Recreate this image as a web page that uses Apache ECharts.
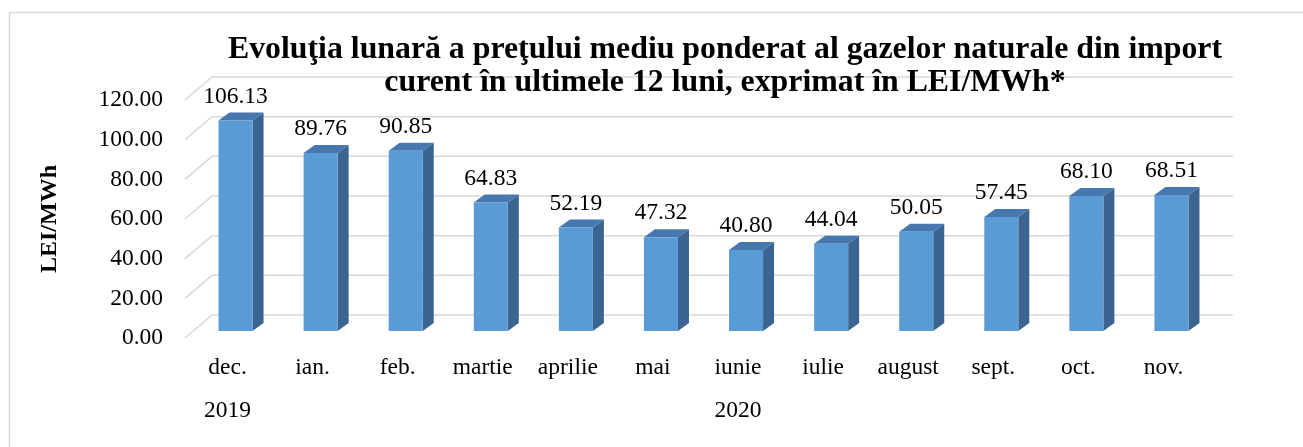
<!DOCTYPE html>
<html>
<head>
<meta charset="utf-8">
<script src="https://cdn.jsdelivr.net/npm/echarts@6/dist/echarts.min.js"></script>
<style>
  html, body { margin: 0; padding: 0; background: #fff; }
  #chart { width: 1303px; height: 447px; }
</style>
</head>
<body>
<div id="chart"></div>
<script>
// luni (dec. 2019 - nov. 2020)
var months = ["dec.", "ian.", "feb.", "martie", "aprilie", "mai", "iunie", "iulie", "august", "sept.", "oct.", "nov."];
var yearLabels = ["2019", "", "", "", "", "", "2020", "", "", "", "", ""];
var prices = [106.13, 89.76, 90.85, 64.83, 52.19, 47.32, 40.8, 44.04, 50.05, 57.45, 68.1, 68.51];
var yTicks = [0, 20, 40, 60, 80, 100, 120];

var FONT = "'Liberation Serif', 'Times New Roman', serif";
var FS = 23.5;

// 3d look
var WALL_DX = 27, WALL_DY = -23;  // front plane -> back wall
var BAR_SHIFT_X = 8, BAR_SHIFT_Y = -7; // bars sit a bit behind the front plane
var DEPTH_X = 11, DEPTH_Y = -8;   // bar depth

var chartDom = document.getElementById("chart");
var myChart = echarts.init(chartDom);

function renderWall(params, api) {
  var cs = params.coordSys;
  var y = api.coord([0, api.value(1)])[1];
  var left = cs.x, right = cs.x + cs.width;
  return {
    type: "polyline",
    shape: {
      points: [
        [left, y],
        [left + WALL_DX, y + WALL_DY],
        [right + WALL_DX, y + WALL_DY]
      ]
    },
    style: { stroke: "#d9d9d9", lineWidth: 1.5, fill: null },
    silent: true
  };
}

function renderBar(params, api) {
  var idx = api.value(0);
  var top = api.coord([idx, api.value(1)]);
  var base = api.coord([idx, 0]);
  var bw = api.size([1, 0])[0] * 0.4;
  var x0 = top[0] + BAR_SHIFT_X - bw / 2;
  var x1 = x0 + bw;
  var yT = top[1] + BAR_SHIFT_Y;
  var yB = base[1] + BAR_SHIFT_Y;
  return {
    type: "group",
    children: [
      {
        type: "polygon",
        shape: { points: [[x1, yB], [x1 + DEPTH_X, yB + DEPTH_Y], [x1 + DEPTH_X, yT + DEPTH_Y], [x1, yT]] },
        style: { fill: "#3b6590" }
      },
      {
        type: "polygon",
        shape: { points: [[x0, yT], [x0 + DEPTH_X, yT + DEPTH_Y], [x1 + DEPTH_X, yT + DEPTH_Y], [x1, yT]] },
        style: { fill: "#4677ae" }
      },
      {
        type: "rect",
        shape: { x: x0, y: yT, width: bw, height: yB - yT },
        style: { fill: "#5b9bd5" }
      },
      {
        type: "text",
        x: (x0 + x1) / 2,
        y: yT + DEPTH_Y - 4,
        style: {
          text: api.value(1).toFixed(2),
          font: FS + "px " + FONT,
          fill: "#000",
          align: "center",
          verticalAlign: "bottom"
        }
      }
    ]
  };
}

var option = {
  animation: false,
  backgroundColor: "#fff",
  title: {
    text: "Evoluţia lunară a preţului mediu ponderat al gazelor naturale din import\ncurent în ultimele 12 luni, exprimat în LEI/MWh*",
    left: 720,
    top: 28,
    textAlign: "center",
    textStyle: {
      fontFamily: FONT,
      fontWeight: "bold",
      fontSize: 31.8,
      lineHeight: 33,
      color: "#000"
    },
    z: 10
  },
  graphic: [
    {
      type: "rect",
      left: 7,
      top: 10,
      shape: { width: 1320, height: 460 },
      style: { fill: null, stroke: "#d9d9d9", lineWidth: 1.5 },
      silent: true,
      z: -1
    }
  ],
  grid: {
    left: 185,
    top: 100,
    width: 1021,
    height: 238
  },
  xAxis: [
    {
      type: "category",
      data: months,
      axisLine: { show: false },
      axisTick: { show: false },
      axisLabel: {
        margin: 18,
        interval: 0,
        fontFamily: FONT,
        fontSize: FS,
        color: "#000"
      }
    },
    {
      type: "category",
      data: yearLabels,
      position: "bottom",
      offset: 43,
      axisLine: { show: false },
      axisTick: { show: false },
      axisLabel: {
        margin: 18,
        interval: 0,
        fontFamily: FONT,
        fontSize: FS,
        color: "#000"
      }
    }
  ],
  yAxis: {
    type: "value",
    min: 0,
    max: 120,
    interval: 20,
    name: "LEI/MWh",
    nameLocation: "middle",
    nameGap: 123,
    nameRotate: 90,
    nameTextStyle: {
      fontFamily: FONT,
      fontWeight: "bold",
      fontSize: 24,
      color: "#000"
    },
    axisLine: { show: false },
    axisTick: { show: false },
    splitLine: { show: false },
    axisLabel: {
      margin: 22,
      fontFamily: FONT,
      fontSize: FS,
      color: "#000",
      formatter: function (v) { return v.toFixed(2); }
    }
  },
  series: [
    {
      name: "grid",
      type: "custom",
      renderItem: renderWall,
      data: yTicks.map(function (v) { return [0, v]; }),
      z: 1,
      silent: true
    },
    {
      name: "Pret",
      type: "custom",
      renderItem: renderBar,
      data: prices.map(function (v, i) { return [i, v]; }),
      z: 2
    }
  ]
};

option && myChart.setOption(option);
</script>
</body>
</html>
